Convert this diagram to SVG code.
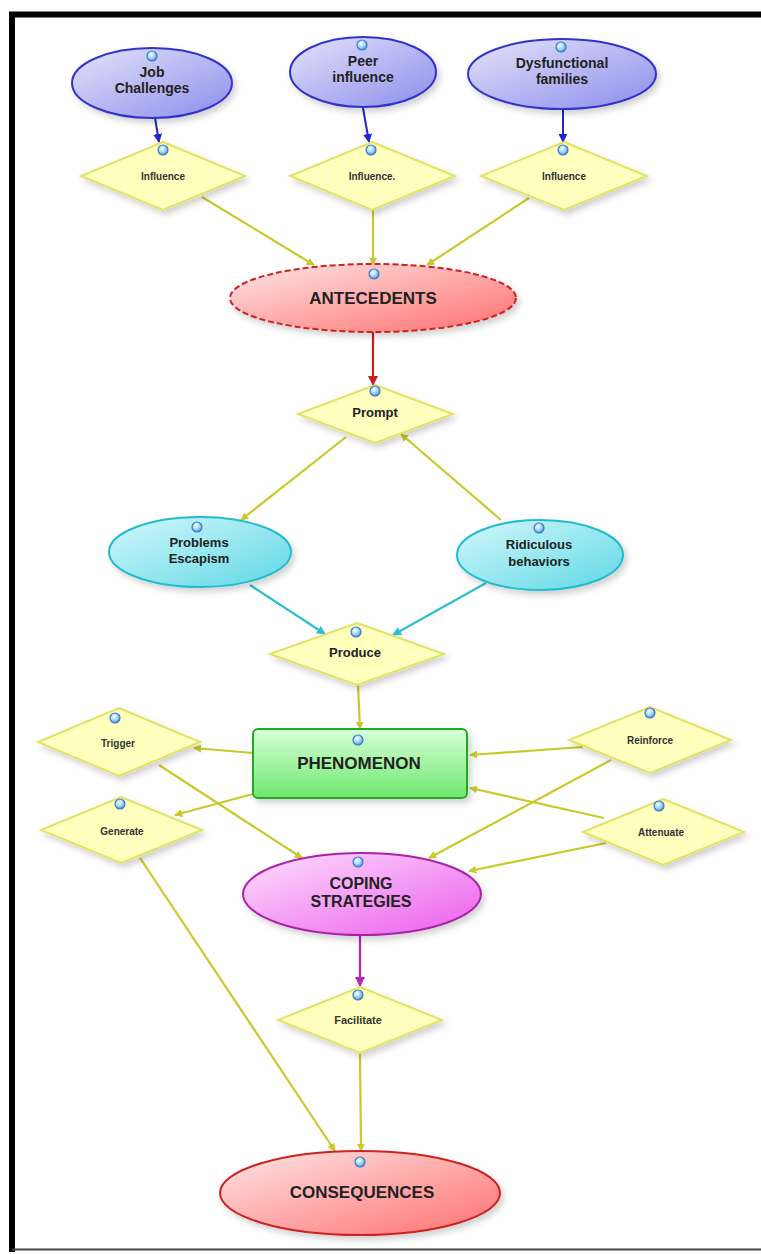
<svg xmlns="http://www.w3.org/2000/svg" width="761" height="1254" viewBox="0 0 761 1254">
<style>
text{font-family:"Liberation Sans",Arial,sans-serif;font-weight:bold;fill:#222;text-anchor:middle}
.lg{font-size:14px}
.xl{font-size:17px}
.sm{font-size:10px;fill:#333}
.md{font-size:13px}
.dia{fill:#ffffbe;stroke:#e2e266;stroke-width:2}
.ly{stroke:#c9c92a;stroke-width:2.2;fill:none;marker-end:url(#ay)}
.lb{stroke:#2424c8;stroke-width:2;fill:none;marker-end:url(#ab)}
.lc{stroke:#2ec0d0;stroke-width:2.2;fill:none;marker-end:url(#ac)}
.dot{fill:url(#gdot);stroke:#3a7cc8;stroke-width:1.2}
</style>
<defs>
<filter id="sh" x="-20%" y="-20%" width="140%" height="150%"><feDropShadow dx="3" dy="4" stdDeviation="3" flood-color="#000" flood-opacity="0.18"/></filter>
<marker id="ay" viewBox="0 0 10 10" refX="9" refY="5" markerWidth="8" markerHeight="8" orient="auto" markerUnits="userSpaceOnUse"><path d="M0,0 L10,5 L0,10 z" fill="#c9c92a"/></marker>
<marker id="ab" viewBox="0 0 10 10" refX="9" refY="5" markerWidth="9" markerHeight="9" orient="auto" markerUnits="userSpaceOnUse"><path d="M0,0 L10,5 L0,10 z" fill="#2424c8"/></marker>
<marker id="ac" viewBox="0 0 10 10" refX="9" refY="5" markerWidth="9" markerHeight="9" orient="auto" markerUnits="userSpaceOnUse"><path d="M0,0 L10,5 L0,10 z" fill="#2ec0d0"/></marker>
<marker id="ar" viewBox="0 0 10 10" refX="9" refY="5" markerWidth="10" markerHeight="10" orient="auto" markerUnits="userSpaceOnUse"><path d="M0,0 L10,5 L0,10 z" fill="#c81e1e"/></marker>
<marker id="am" viewBox="0 0 10 10" refX="9" refY="5" markerWidth="10" markerHeight="10" orient="auto" markerUnits="userSpaceOnUse"><path d="M0,0 L10,5 L0,10 z" fill="#c020c0"/></marker>
<linearGradient id="gblue" x1="0" y1="0" x2="1" y2="1"><stop offset="0" stop-color="#e4e4fb"/><stop offset="1" stop-color="#8c8cec"/></linearGradient>
<linearGradient id="gred" x1="0" y1="0" x2="1" y2="1"><stop offset="0" stop-color="#ffe6e6"/><stop offset="1" stop-color="#ff6f6f"/></linearGradient>
<linearGradient id="gcyan" x1="0" y1="0" x2="1" y2="1"><stop offset="0" stop-color="#d4f8fb"/><stop offset="1" stop-color="#5ed8e6"/></linearGradient>
<linearGradient id="ggreen" x1="0" y1="0" x2="0" y2="1"><stop offset="0" stop-color="#d8ffd8"/><stop offset="1" stop-color="#6ee86e"/></linearGradient>
<linearGradient id="gmag" x1="0" y1="0" x2="1" y2="1"><stop offset="0" stop-color="#ffe0ff"/><stop offset="1" stop-color="#ea5cea"/></linearGradient>
<radialGradient id="gdot" cx="0.4" cy="0.35" r="0.7"><stop offset="0" stop-color="#ffffff"/><stop offset="0.5" stop-color="#a8d8f8"/><stop offset="1" stop-color="#3a88d8"/></radialGradient>
</defs>
<rect width="761" height="1254" fill="#fff"/>
<g id="frame">
<path d="M12,1252 V14.5 H761" fill="none" stroke="#000" stroke-width="6"/>
<line x1="12" y1="1249.5" x2="761" y2="1249.5" stroke="#444" stroke-width="2"/>
</g>
<g id="connectors">
<line class="lb" x1="155" y1="118" x2="159" y2="142"/>
<line class="lb" x1="363" y1="108" x2="369" y2="142"/>
<line class="lb" x1="563" y1="110" x2="563" y2="142"/>
<line class="ly" x1="202" y1="197" x2="314" y2="265"/>
<line class="ly" x1="373" y1="210" x2="373" y2="265"/>
<line class="ly" x1="529" y1="198" x2="427" y2="265"/>
<line x1="373" y1="332" x2="373" y2="385" stroke="#c81e1e" stroke-width="2.2" marker-end="url(#ar)"/>
<line class="ly" x1="346" y1="437" x2="241" y2="520"/>
<line class="ly" x1="501" y1="520" x2="401" y2="434"/>
<line class="lc" x1="250" y1="585" x2="325" y2="634"/>
<line class="lc" x1="486" y1="583" x2="393" y2="635"/>
<line class="ly" x1="358" y1="685" x2="360" y2="729"/>
<line class="ly" x1="253" y1="753" x2="194" y2="748"/>
<line class="ly" x1="159" y1="765" x2="302" y2="858"/>
<line class="ly" x1="253" y1="794" x2="175" y2="815"/>
<line class="ly" x1="583" y1="747" x2="470" y2="755"/>
<line class="ly" x1="611" y1="760" x2="429" y2="858"/>
<line class="ly" x1="604" y1="818" x2="470" y2="788"/>
<line class="ly" x1="606" y1="843" x2="469" y2="871"/>
<line class="ly" x1="140" y1="858" x2="335" y2="1151"/>
<line x1="360" y1="935" x2="360" y2="986" stroke="#c020c0" stroke-width="2.2" marker-end="url(#am)"/>
<line class="ly" x1="360" y1="1053" x2="361" y2="1151"/>
</g>
<g id="job-challenges">
<ellipse cx="152" cy="83" rx="80" ry="35" fill="url(#gblue)" stroke="#3333cc" stroke-width="2" filter="url(#sh)"/>
<circle class="dot" cx="152" cy="56" r="5"/>
<text class="lg" x="152" y="77">Job</text><text class="lg" x="152" y="93">Challenges</text>
</g>
<g id="peer-influence">
<ellipse cx="363" cy="72" rx="73" ry="35" fill="url(#gblue)" stroke="#3333cc" stroke-width="2" filter="url(#sh)"/>
<circle class="dot" cx="362" cy="45" r="5"/>
<text class="lg" x="363" y="66">Peer</text><text class="lg" x="363" y="82">influence</text>
</g>
<g id="dysfunctional-families">
<ellipse cx="562" cy="74" rx="94" ry="35" fill="url(#gblue)" stroke="#3333cc" stroke-width="2" filter="url(#sh)"/>
<circle class="dot" cx="561" cy="47" r="5"/>
<text class="lg" x="562" y="68">Dysfunctional</text><text class="lg" x="562" y="84">families</text>
</g>
<g id="influence-1">
<polygon class="dia" points="163,142 245,176 163,210 81,176" filter="url(#sh)"/>
<circle class="dot" cx="163" cy="150" r="5"/>
<text class="sm" x="163" y="180">Influence</text>
</g>
<g id="influence-2">
<polygon class="dia" points="372,142 455,176 372,210 290,176" filter="url(#sh)"/>
<circle class="dot" cx="371" cy="150" r="5"/>
<text class="sm" x="372" y="180">Influence.</text>
</g>
<g id="influence-3">
<polygon class="dia" points="564,142 647,176 564,210 481,176" filter="url(#sh)"/>
<circle class="dot" cx="563" cy="150" r="5"/>
<text class="sm" x="564" y="180">Influence</text>
</g>
<g id="antecedents">
<ellipse cx="373" cy="298" rx="143" ry="34" fill="url(#gred)" stroke="#cc2222" stroke-width="2" stroke-dasharray="6,3" filter="url(#sh)"/>
<circle class="dot" cx="374" cy="274" r="5"/>
<text class="xl" x="373" y="304">ANTECEDENTS</text>
</g>
<g id="prompt">
<polygon class="dia" points="375,385 453,414 375,443 298,414" filter="url(#sh)"/>
<circle class="dot" cx="375" cy="391" r="5"/>
<text class="md" x="375" y="417">Prompt</text>
</g>
<g id="problems-escapism">
<ellipse cx="200" cy="552" rx="91" ry="35" fill="url(#gcyan)" stroke="#22bccc" stroke-width="2" filter="url(#sh)"/>
<circle class="dot" cx="197" cy="527" r="5"/>
<text class="md" x="199" y="547">Problems</text><text class="md" x="199" y="563">Escapism</text>
</g>
<g id="ridiculous-behaviors">
<ellipse cx="540" cy="555" rx="83" ry="35" fill="url(#gcyan)" stroke="#22bccc" stroke-width="2" filter="url(#sh)"/>
<circle class="dot" cx="539" cy="528" r="5"/>
<text class="md" x="539" y="549">Ridiculous</text><text class="md" x="539" y="566">behaviors</text>
</g>
<g id="produce">
<polygon class="dia" points="357,623 444,654 357,685 270,654" filter="url(#sh)"/>
<circle class="dot" cx="356" cy="632" r="5"/>
<text class="md" x="355" y="657">Produce</text>
</g>
<g id="phenomenon">
<rect x="253" y="729" width="214" height="69" rx="5" fill="url(#ggreen)" stroke="#22aa22" stroke-width="2" filter="url(#sh)"/>
<circle class="dot" cx="358" cy="740" r="5"/>
<text class="xl" x="359" y="769">PHENOMENON</text>
</g>
<g id="trigger">
<polygon class="dia" points="119,708 200,742 119,776 38,742" filter="url(#sh)"/>
<circle class="dot" cx="115" cy="718" r="5"/>
<text class="sm" x="118" y="747">Trigger</text>
</g>
<g id="generate">
<polygon class="dia" points="121,797 202,830 121,863 41,830" filter="url(#sh)"/>
<circle class="dot" cx="120" cy="804" r="5"/>
<text class="sm" x="122" y="835">Generate</text>
</g>
<g id="reinforce">
<polygon class="dia" points="650,707 731,740 650,773 569,740" filter="url(#sh)"/>
<circle class="dot" cx="650" cy="713" r="5"/>
<text class="sm" x="650" y="744">Reinforce</text>
</g>
<g id="attenuate">
<polygon class="dia" points="663,799 744,832 663,865 583,832" filter="url(#sh)"/>
<circle class="dot" cx="659" cy="806" r="5"/>
<text class="sm" x="661" y="836">Attenuate</text>
</g>
<g id="coping-strategies">
<ellipse cx="362" cy="894" rx="119" ry="41" fill="url(#gmag)" stroke="#aa22aa" stroke-width="2" filter="url(#sh)"/>
<circle class="dot" cx="358" cy="862" r="5"/>
<text style="font-size:16px" x="361" y="889">COPING</text><text style="font-size:16px" x="361" y="907">STRATEGIES</text>
</g>
<g id="facilitate">
<polygon class="dia" points="360,987 442,1020 360,1053 278,1020" filter="url(#sh)"/>
<circle class="dot" cx="358" cy="995" r="5"/>
<text class="sm" style="font-size:11px" x="358" y="1024">Facilitate</text>
</g>
<g id="consequences">
<ellipse cx="360" cy="1193" rx="140" ry="42" fill="url(#gred)" stroke="#cc2222" stroke-width="2" filter="url(#sh)"/>
<circle class="dot" cx="360" cy="1162" r="5"/>
<text class="xl" x="362" y="1198">CONSEQUENCES</text>
</g>
</svg>
